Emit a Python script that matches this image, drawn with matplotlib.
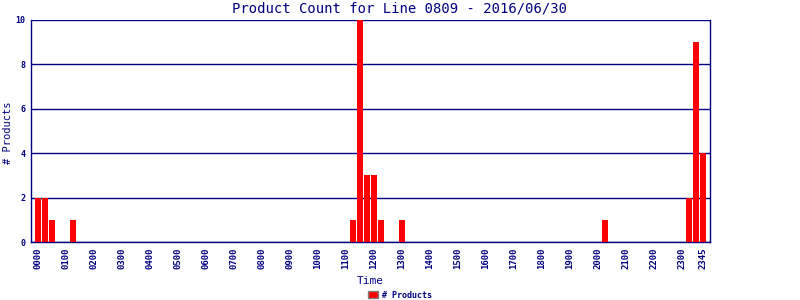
import matplotlib
matplotlib.use("Agg")
import matplotlib.pyplot as plt
from matplotlib.patches import Patch

NAVY = "#000080"

# 15-minute slots 0000 .. 2345
slot_labels = [f"{h:02d}{m:02d}" for h in range(24) for m in (0, 15, 30, 45)]
counts = [0] * 96
nonzero = {
    "0000": 2, "0015": 2, "0030": 1, "0115": 1,
    "1115": 1, "1130": 10, "1145": 3, "1200": 3, "1215": 1,
    "1300": 1, "2015": 1,
    "2315": 2, "2330": 9, "2345": 4,
}
for k, v in nonzero.items():
    counts[slot_labels.index(k)] = v

tick_labels = [f"{h:02d}00" for h in range(24)] + ["2345"]
tick_pos = [slot_labels.index(t) for t in tick_labels]
y_ticks = [0, 2, 4, 6, 8, 10]

fig = plt.figure(figsize=(8, 3), dpi=100)
ax = fig.add_axes([31/800, 1 - 242/300, (710 - 31)/800, (242 - 20)/300])

x = list(range(len(counts)))
ax.bar(x, counts, width=0.85, color="#ff0000", zorder=3, label="# Products")

ax.set_xlim(-1, 96)
ax.set_ylim(0, 10)
ax.set_yticks(y_ticks)
ax.set_yticklabels([str(v) for v in y_ticks], fontsize=6, fontweight="bold",
                   color=NAVY, family="DejaVu Sans Mono")
ax.set_xticks(tick_pos)
ax.set_xticklabels(tick_labels, rotation=90, fontsize=6.5, fontweight="bold",
                   color=NAVY, family="DejaVu Sans Mono")
ax.tick_params(axis="both", length=0, pad=4)
ax.yaxis.grid(True, color=NAVY, linewidth=1, zorder=1)
for s in ("left", "bottom", "right"):
    ax.spines[s].set_color(NAVY)
    ax.spines[s].set_linewidth(1)
ax.spines["top"].set_visible(False)

fig.text(8/800, 1 - 133/300, "# Products", rotation=90, ha="center", va="center",
         fontsize=7.5, color=NAVY, family="DejaVu Sans Mono")
ax.set_xlabel("Time", fontsize=8, color=NAVY, family="DejaVu Sans Mono", labelpad=5)

fig.text(0.5, 1 - 9/300, "Product Count for Line 0809 - 2016/06/30", ha="center", va="center",
         fontsize=10, color=NAVY, family="DejaVu Sans Mono")

handle = Patch(facecolor="#ff0000", edgecolor="#808080", linewidth=1)
fig.legend([handle], ["# Products"], loc="center", bbox_to_anchor=(0.5, 1 - 295/300),
           frameon=False, handlelength=1.2, handleheight=0.9,
           handletextpad=0.4, prop={"family": "DejaVu Sans Mono", "weight": "bold", "size": 6},
           labelcolor=NAVY)

fig.savefig("out.png", dpi=100)
